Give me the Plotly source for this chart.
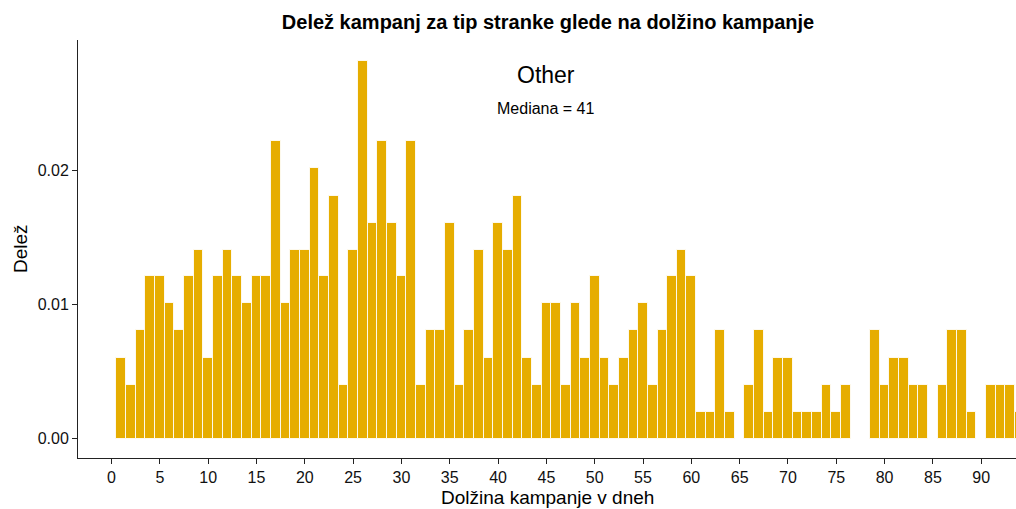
import plotly.graph_objects as go

# Campaign length in days (x) and share of campaigns (y) for page type "Other"
days = list(range(1, 95))
share = [
    0.0060, 0.0040, 0.0081, 0.0121, 0.0121, 0.0101, 0.0081, 0.0121, 0.0141, 0.0060,  # 1-10
    0.0121, 0.0141, 0.0121, 0.0101, 0.0121, 0.0121, 0.0222, 0.0101, 0.0141, 0.0141,  # 11-20
    0.0202, 0.0121, 0.0181, 0.0040, 0.0141, 0.0282, 0.0161, 0.0222, 0.0161, 0.0121,  # 21-30
    0.0222, 0.0040, 0.0081, 0.0081, 0.0161, 0.0040, 0.0081, 0.0141, 0.0060, 0.0161,  # 31-40
    0.0141, 0.0181, 0.0060, 0.0040, 0.0101, 0.0101, 0.0040, 0.0101, 0.0060, 0.0121,  # 41-50
    0.0060, 0.0040, 0.0060, 0.0081, 0.0101, 0.0040, 0.0081, 0.0121, 0.0141, 0.0121,  # 51-60
    0.0020, 0.0020, 0.0081, 0.0020, None,   0.0040, 0.0081, 0.0020, 0.0060, 0.0060,  # 61-70
    0.0020, 0.0020, 0.0020, 0.0040, 0.0020, 0.0040, None,   None,   0.0081, 0.0040,  # 71-80
    0.0060, 0.0060, 0.0040, 0.0040, None,   0.0040, 0.0081, 0.0081, 0.0020, None,    # 81-90
    0.0040, 0.0040, 0.0040, 0.0020,                                                  # 91-94
]

title_text = "Delež kampanj za tip stranke glede na dolžino kampanje"
x_title = "Dolžina kampanje v dneh"
y_title = "Delež"
facet_label = "Other"
median_label = "Mediana = 41"
median_label_x = 45
x_ticks = list(range(0, 95, 5))
y_ticks = [0.0, 0.01, 0.02]
y_tick_text = ["0.00", "0.01", "0.02"]

bar_color = "#E6AD00"
font_family = "Liberation Sans, Arial, sans-serif"

fig = go.Figure()
fig.add_trace(go.Bar(
    x=days, y=share, width=1.0,
    marker=dict(color=bar_color, line=dict(color="rgba(255,255,255,0.85)", width=1)),
    hoverinfo="x+y",
))

fig.update_layout(
    width=1016, height=509,
    margin=dict(l=78, r=0, t=40, b=51),
    plot_bgcolor="white", paper_bgcolor="white",
    font=dict(family=font_family, color="black", size=16),
    showlegend=False,
    bargap=0,
    title=dict(text="<b>" + title_text + "</b>", x=548 / 1016, xanchor="center",
               y=1 - 22 / 509, yanchor="middle",
               font=dict(size=20, family=font_family, color="black")),
    xaxis=dict(range=[-3.47, 93.6], tickmode="array", tickvals=x_ticks,
               showline=True, linecolor="#222", linewidth=1,
               ticks="outside", ticklen=5, tickcolor="#222", tickwidth=1,
               showgrid=False, zeroline=False,
               tickfont=dict(size=16, color="#111")),
    yaxis=dict(range=[-0.001456, 0.02976], tickmode="array", tickvals=y_ticks,
               ticktext=y_tick_text,
               showline=True, linecolor="#222", linewidth=1,
               ticks="outside", ticklen=5, tickcolor="#222", tickwidth=1,
               showgrid=False, zeroline=False,
               tickfont=dict(size=16, color="#111")),
)

annotations = [
    dict(text=facet_label, x=median_label_x, y=0.02715, xref="x", yref="y",
         showarrow=False, font=dict(size=23, color="black"), yanchor="middle"),
    dict(text=median_label, x=median_label_x, y=0.02468, xref="x", yref="y",
         showarrow=False, font=dict(size=16, color="black"), yanchor="middle"),
    dict(text=x_title, x=0.5, y=-(497 - 458) / 418, xref="paper", yref="paper",
         showarrow=False, font=dict(size=19, color="black"), yanchor="middle"),
    dict(text=y_title, x=-(78 - 20) / 938, y=0.5, xref="paper", yref="paper",
         showarrow=False, textangle=-90, font=dict(size=19, color="black"),
         xanchor="center", yanchor="middle"),
]
fig.update_layout(annotations=annotations)

fig.write_html("out.html",
               config={"displayModeBar": False},
               post_script="document.body.style.margin='0';document.body.style.overflow='hidden';")
